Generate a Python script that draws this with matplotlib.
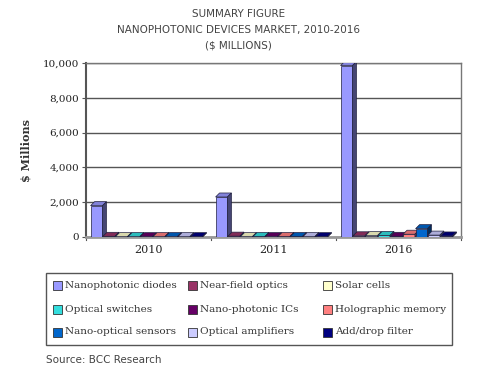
import matplotlib
matplotlib.use("Agg")
import matplotlib.pyplot as plt
from matplotlib.patches import Polygon, Rectangle
import numpy as np

years = ["2010", "2011", "2016"]
series = ["Nanophotonic diodes", "Near-field optics", "Solar cells",
          "Optical switches", "Nano-photonic ICs", "Holographic memory",
          "Nano-optical sensors", "Optical amplifiers", "Add/drop filter"]
values = {
    "Nanophotonic diodes": [1800, 2300, 9850],
    "Near-field optics": [40, 50, 70],
    "Solar cells": [20, 25, 80],
    "Optical switches": [25, 30, 90],
    "Nano-photonic ICs": [20, 25, 40],
    "Holographic memory": [25, 30, 160],
    "Nano-optical sensors": [25, 30, 480],
    "Optical amplifiers": [20, 25, 110],
    "Add/drop filter": [20, 20, 60],
}
colors = ["#9999FF", "#993366", "#FFFFCC", "#33DDDD", "#660066",
          "#FF8080", "#0066CC", "#CCCCFF", "#000080"]
yticks = [0, 2000, 4000, 6000, 8000, 10000]

def shade(c, f):
    rgb = np.array(matplotlib.colors.to_rgb(c))
    return tuple(np.clip(rgb * f, 0, 1))

W, H = 480, 382
fig = plt.figure(figsize=(4.8, 3.82), dpi=100)
fig.patch.set_facecolor("white")
L, R, B, T = 86/W, 461/W, 1-237/H, 1-63/H
ax = fig.add_axes([L, B, R-L, T-B])
ax.set_xlim(-0.5, len(years) - 0.5)
ax.set_ylim(0, 10000)

axw_px = (R - L) * W
axh_px = (T - B) * H
ddx = 4.0 / axw_px * len(years)
ddy = 4.0 / axh_px * 10000

n = len(series)
group_w = 0.9
bw = group_w / n
x = np.arange(len(years))
for i, s in enumerate(series):
    xs = x - group_w / 2 + i * bw + bw / 2 - ddx / 2
    vals = values[s]
    ax.bar(xs, vals, width=bw * 0.95, color=colors[i], edgecolor="#202040",
           linewidth=0.5, zorder=3)
    for xi, v in zip(xs, vals):
        x0, x1 = xi - bw * 0.95 / 2, xi + bw * 0.95 / 2
        top = Polygon([(x0, v), (x1, v), (x1 + ddx, v + ddy), (x0 + ddx, v + ddy)],
                      closed=True, facecolor=shade(colors[i], 0.85),
                      edgecolor="#202040", linewidth=0.5, zorder=3)
        side = Polygon([(x1, 0), (x1 + ddx, ddy), (x1 + ddx, v + ddy), (x1, v)],
                       closed=True, facecolor=shade(colors[i], 0.45),
                       edgecolor="#202040", linewidth=0.5, zorder=3)
        ax.add_patch(top)
        ax.add_patch(side)

ax.set_yticks(yticks)
ax.set_yticklabels([f"{v:,}" for v in yticks], family="DejaVu Serif", fontsize=7.5,
                   color="#222222")
ax.yaxis.grid(True, color="#555555", linewidth=1.0, zorder=0)
ax.set_axisbelow(True)
ax.set_xticks(x)
ax.set_xticklabels(years, family="DejaVu Serif", fontsize=8, color="#222222")
ax.tick_params(axis="x", length=0, pad=6)
ax.tick_params(axis="y", length=3, width=0.8, color="#555555", pad=2)
for sp in ["top", "right"]:
    ax.spines[sp].set_color("#777777")
    ax.spines[sp].set_linewidth(1.0)
ax.spines["left"].set_color("#555555")
ax.spines["left"].set_linewidth(1.5)
ax.spines["bottom"].set_color("#999999")
ax.spines["bottom"].set_linewidth(2.0)
for b in [-0.5, 0.5, 1.5, 2.5]:
    ax.plot([b, b], [0, -150], color="#555555", lw=0.8, clip_on=False)

ax.set_ylabel("$ Millions", family="DejaVu Serif", fontsize=8, fontweight="bold",
              color="#333333", labelpad=8)

for ty, txt in [(14, "SUMMARY FIGURE"),
                (30.5, "NANOPHOTONIC DEVICES MARKET, 2010-2016"),
                (46, "($ MILLIONS)")]:
    fig.text(0.497, 1 - ty/H, txt, ha="center", va="center",
             fontsize=7.5, color="#444444")

# manual legend box
fig.patches.append(Rectangle((46/W, 1 - 345/H), (452-46)/W, (345-273)/H,
                             transform=fig.transFigure, facecolor="white",
                             edgecolor="#555555", linewidth=1.0))
col_x = [53, 188, 323]
row_y = [285, 309, 332]
sw = 9
for k, s in enumerate(series):
    r, c = divmod(k, 3)
    cx, cy = col_x[c], row_y[r]
    fig.patches.append(Rectangle((cx/W, 1 - (cy + sw/2)/H), sw/W, sw/H,
                                 transform=fig.transFigure, facecolor=colors[k],
                                 edgecolor="#333333", linewidth=0.6))
    fig.text((cx + sw + 3)/W, 1 - cy/H, s, ha="left", va="center",
             family="DejaVu Serif", fontsize=7.5, color="#333333")

fig.text(46/W, 1 - 360/H, "Source: BCC Research", ha="left", va="center",
         fontsize=7.5, color="#444444")

fig.savefig("out.png", dpi=100, facecolor="white")
